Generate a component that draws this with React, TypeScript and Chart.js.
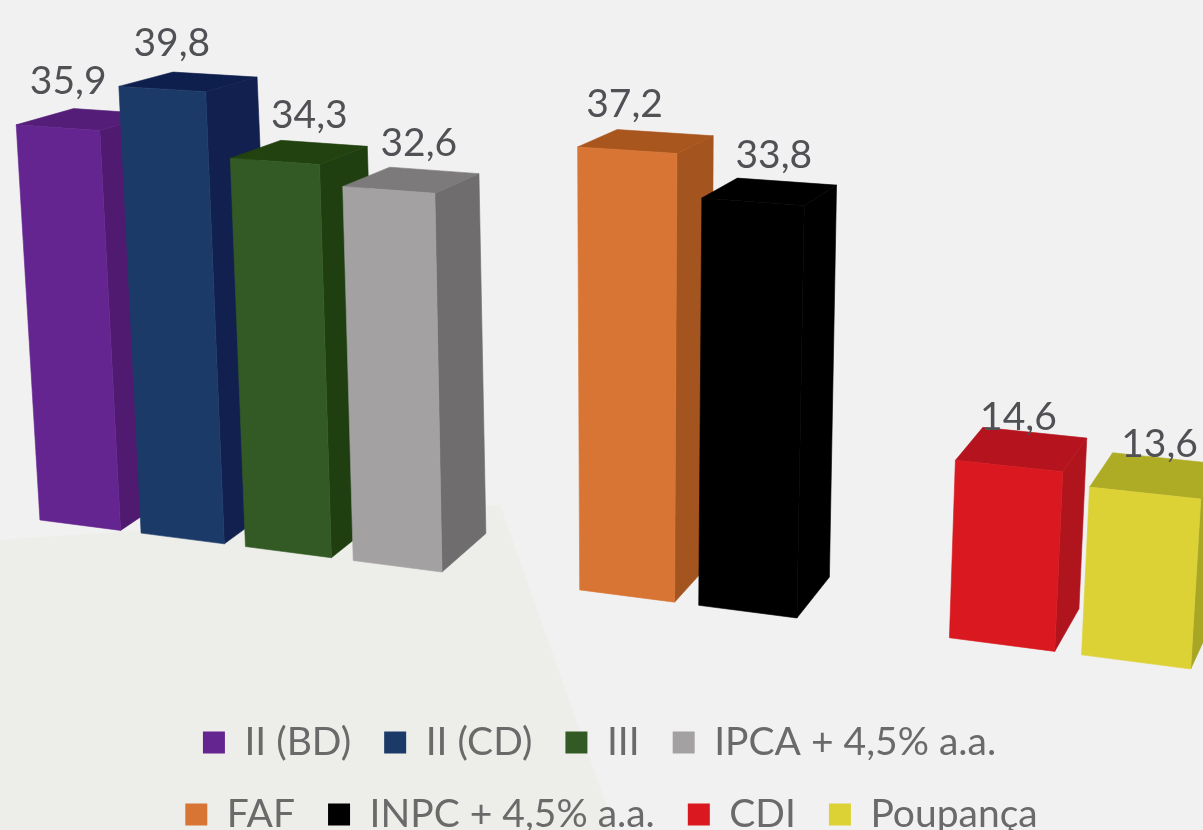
import React, { useEffect, useRef } from "react";
import { Chart, registerables } from "chart.js";

Chart.register(...registerables);

const series = ["II (BD)", "II (CD)", "III", "IPCA + 4,5% a.a.", "FAF", "INPC + 4,5% a.a.", "CDI", "Poupança"];
const values = [35.9, 39.8, 34.3, 32.6, 37.2, 33.8, 14.6, 13.6];
const valueLabels = ["35,9", "39,8", "34,3", "32,6", "37,2", "33,8", "14,6", "13,6"];
// Slot of each series on the category axis: empty slots separate the three groups.
const slots = [0, 1, 2, 3, 5, 6, 8, 9];
const slotCount = 10;
const frontColors = ["#652590", "#1c3a68", "#335a24", "#a3a1a1", "#d87534", "#000000", "#d9181f", "#dcd135"];
const sideColors = ["#4f1a70", "#12204f", "#1f3f10", "#6f6d6d", "#a4551f", "#000000", "#b0141c", "#a8a625"];
const topColors = ["#541e78", "#0f1f4d", "#22420f", "#7c7a7a", "#a9561e", "#000000", "#b5141e", "#aeac24"];
const labelShiftX = [52, 53, 79, 76, 47, 72, 63, 70];

const categories = Array.from({ length: slotCount }, (_, i) => {
  const k = slots.indexOf(i);
  return k >= 0 ? series[k] : "";
});

// The camera: where the corners of the flat plot area land in the photographed 3D view.
const plane = {
  floorLeft: [30, 518.7],
  floorRight: [1204.6, 670.8],
  topRight: [1236, 152],
  topLeft: [3, 77],
};

function makeHomography() {
  const [x0, y0] = plane.floorLeft;
  const [x1, y1] = plane.floorRight;
  const [x2, y2] = plane.topRight;
  const [x3, y3] = plane.topLeft;
  const dx1 = x1 - x2, dx2 = x3 - x2, sx = x0 - x1 + x2 - x3;
  const dy1 = y1 - y2, dy2 = y3 - y2, sy = y0 - y1 + y2 - y3;
  const det = dx1 * dy2 - dx2 * dy1;
  const g = (sx * dy2 - dx2 * sy) / det;
  const h = (dx1 * sy - sx * dy1) / det;
  const a = x1 - x0 + g * x1, b = x3 - x0 + h * x3;
  const d = y1 - y0 + g * y1, e = y3 - y0 + h * y3;
  return (u: number, w: number): [number, number] => {
    const q = g * u + h * w + 1;
    return [(a * u + b * w + x0) / q, (d * u + e * w + y0) / q];
  };
}
const project = makeHomography();

// Depth of the box: back edge as seen from a given front point.
const back = ([x, y]: [number, number]): [number, number] => [x + 58 - 0.032 * x, y - (10 + 0.05 * y)];

function poly(ctx: CanvasRenderingContext2D, pts: [number, number][], color: string) {
  ctx.beginPath();
  pts.forEach(([x, y], i) => (i ? ctx.lineTo(x, y) : ctx.moveTo(x, y)));
  ctx.closePath();
  ctx.fillStyle = color;
  ctx.fill();
  ctx.strokeStyle = color;
  ctx.lineWidth = 0.6;
  ctx.stroke();
}

function corners(chart: any, i: number) {
  const el = chart.getDatasetMeta(i).data[slots[i]];
  const area = chart.chartArea;
  const U = (px: number) => (px - area.left) / area.width;
  const W = (py: number) => (area.bottom - py) / area.height;
  const l = el.x - el.width / 2, r = el.x + el.width / 2;
  return {
    tl: project(U(l), W(el.y)),
    tr: project(U(r), W(el.y)),
    bl: project(U(l), W(el.base)),
    br: project(U(r), W(el.base)),
  };
}

const perspectiveBars = {
  id: "perspectiveBars",
  beforeLayout(chart: any) {
    const legend = chart.legend;
    if (legend && !legend.__rows) {
      legend.__rows = true;
      const fit = legend._fitRows;
      legend._fitRows = function (...args: any[]) {
        const keep = this.maxWidth;
        this.maxWidth = 950;
        const out = fit.apply(this, args);
        this.maxWidth = keep;
        return out;
      };
    }
  },
  afterLayout(chart: any) {
    const legend = chart.legend;
    if (legend) {
      // Narrow the legend box, so that its draw step breaks the rows after four items.
      legend.left = 99;
      legend.right = 1100;
      legend.top += 14;
      legend.bottom += 14;
      // The second row sits a little right of centre.
      if (legend.lineWidths.length > 1) legend.lineWidths[1] -= 24;
    }
  },
  beforeDraw(chart: any) {
    const { ctx, width, height } = chart;
    ctx.save();
    ctx.fillStyle = "#f1f1f1";
    ctx.fillRect(0, 0, width, height);
    ctx.fillStyle = "#edeeea";
    ctx.beginPath();
    ctx.moveTo(0, 540);
    ctx.lineTo(500, 505);
    ctx.lineTo(615, height);
    ctx.lineTo(0, height);
    ctx.closePath();
    ctx.fill();
    ctx.restore();
  },
  beforeDatasetDraw() {
    return false;
  },
  afterDatasetsDraw(chart: any) {
    const { ctx } = chart;
    ctx.save();
    values.forEach((_, i) => {
      const c = corners(chart, i);
      poly(ctx, [c.tr, back(c.tr), back(c.br), c.br], sideColors[i]);
      poly(ctx, [c.tl, back(c.tl), back(c.tr), c.tr], topColors[i]);
      poly(ctx, [c.tl, c.tr, c.br, c.bl], frontColors[i]);
    });
    ctx.font = "39px Lato";
    ctx.fillStyle = "#505155";
    ctx.textAlign = "center";
    ctx.textBaseline = "middle";
    values.forEach((_, i) => {
      const c = corners(chart, i);
      ctx.fillText(valueLabels[i], c.tl[0] + labelShiftX[i], c.tl[1] - 43);
    });
    ctx.restore();
  },
};

export default function App() {
  const ref = useRef<HTMLCanvasElement>(null);
  useEffect(() => {
    const chart = new Chart(ref.current as HTMLCanvasElement, {
      type: "bar",
      data: {
        labels: categories,
        datasets: series.map((name, i) => ({
          label: name,
          data: categories.map((_, s) => (s === slots[i] ? values[i] : null)),
          backgroundColor: frontColors[i],
          borderWidth: 0,
          barPercentage: 0.8,
          categoryPercentage: 1,
          grouped: false,
        })),
      },
      options: {
        animation: false,
        responsive: false,
        scales: {
          x: { display: false },
          y: { display: false, min: 0, max: 40 },
        },
        plugins: {
          tooltip: { enabled: false },
          legend: {
            position: "bottom",
            labels: {
              boxWidth: 22,
              boxHeight: 22,
              padding: 33,
              color: "#6a6a6a",
              font: { family: "Lato", size: 39, lineHeight: 0.85 },
            },
          },
        },
      },
      plugins: [perspectiveBars],
    } as any);
    return () => chart.destroy();
  }, []);
  return (
    <div style={{ position: "absolute", left: 0, top: 0, width: 1203, height: 830, overflow: "hidden" }}>
      <canvas ref={ref} width={1203} height={830} style={{ display: "block", filter: "blur(0.7px)" }} />
    </div>
  );
}
